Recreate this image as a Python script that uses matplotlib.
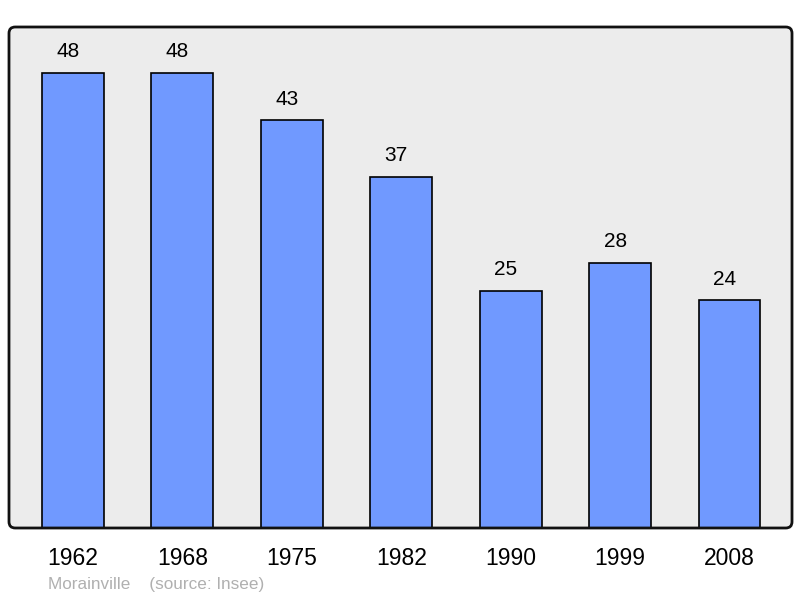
import matplotlib
matplotlib.use("Agg")
import matplotlib.pyplot as plt
from matplotlib.patches import FancyBboxPatch

years = ["1962", "1968", "1975", "1982", "1990", "1999", "2008"]
population = [48, 48, 43, 37, 25, 28, 24]

plt.rcParams['font.family'] = ['Liberation Sans', 'DejaVu Sans']

fig = plt.figure(figsize=(8, 5.98), dpi=100)
ax = fig.add_axes([9 / 800, 1 - 528 / 598, 783 / 800, 501 / 598])
ax.set_facecolor('#ececec')

x = list(range(len(years)))
bars = ax.bar(x, population, width=0.566, color='#7099ff', edgecolor='black',
              linewidth=1.2, zorder=2)
# value labels sit slightly left of the bar centre in the original
for xi, v in zip(x, population):
    ax.annotate(str(v), (xi, v), xytext=(-3.5, 8.5), textcoords='offset points',
                ha='center', va='bottom', fontsize=15, color='black')

ax.set_xlim(-0.584, 6.571)
ax.set_ylim(0, 52.85)
ax.set_yticks([])
ax.set_xticks(x)
ax.set_xticklabels(years, fontsize=16.5)
ax.tick_params(axis='x', length=0, pad=14)
for s in ax.spines.values():
    s.set_visible(False)

frame = FancyBboxPatch((0, 0), 1, 1, boxstyle='round,pad=0,rounding_size=0.008',
                       transform=ax.transAxes, fill=False, edgecolor='#111111',
                       linewidth=2, clip_on=False, zorder=5, mutation_aspect=783 / 501)
ax.add_patch(frame)

fig.text(48 / 800, 1 - 584 / 598, "Morainville    (source: Insee)", fontsize=12.3,
         color='#b0b0b0', ha='left', va='center')

fig.savefig('out.png', dpi=100)
